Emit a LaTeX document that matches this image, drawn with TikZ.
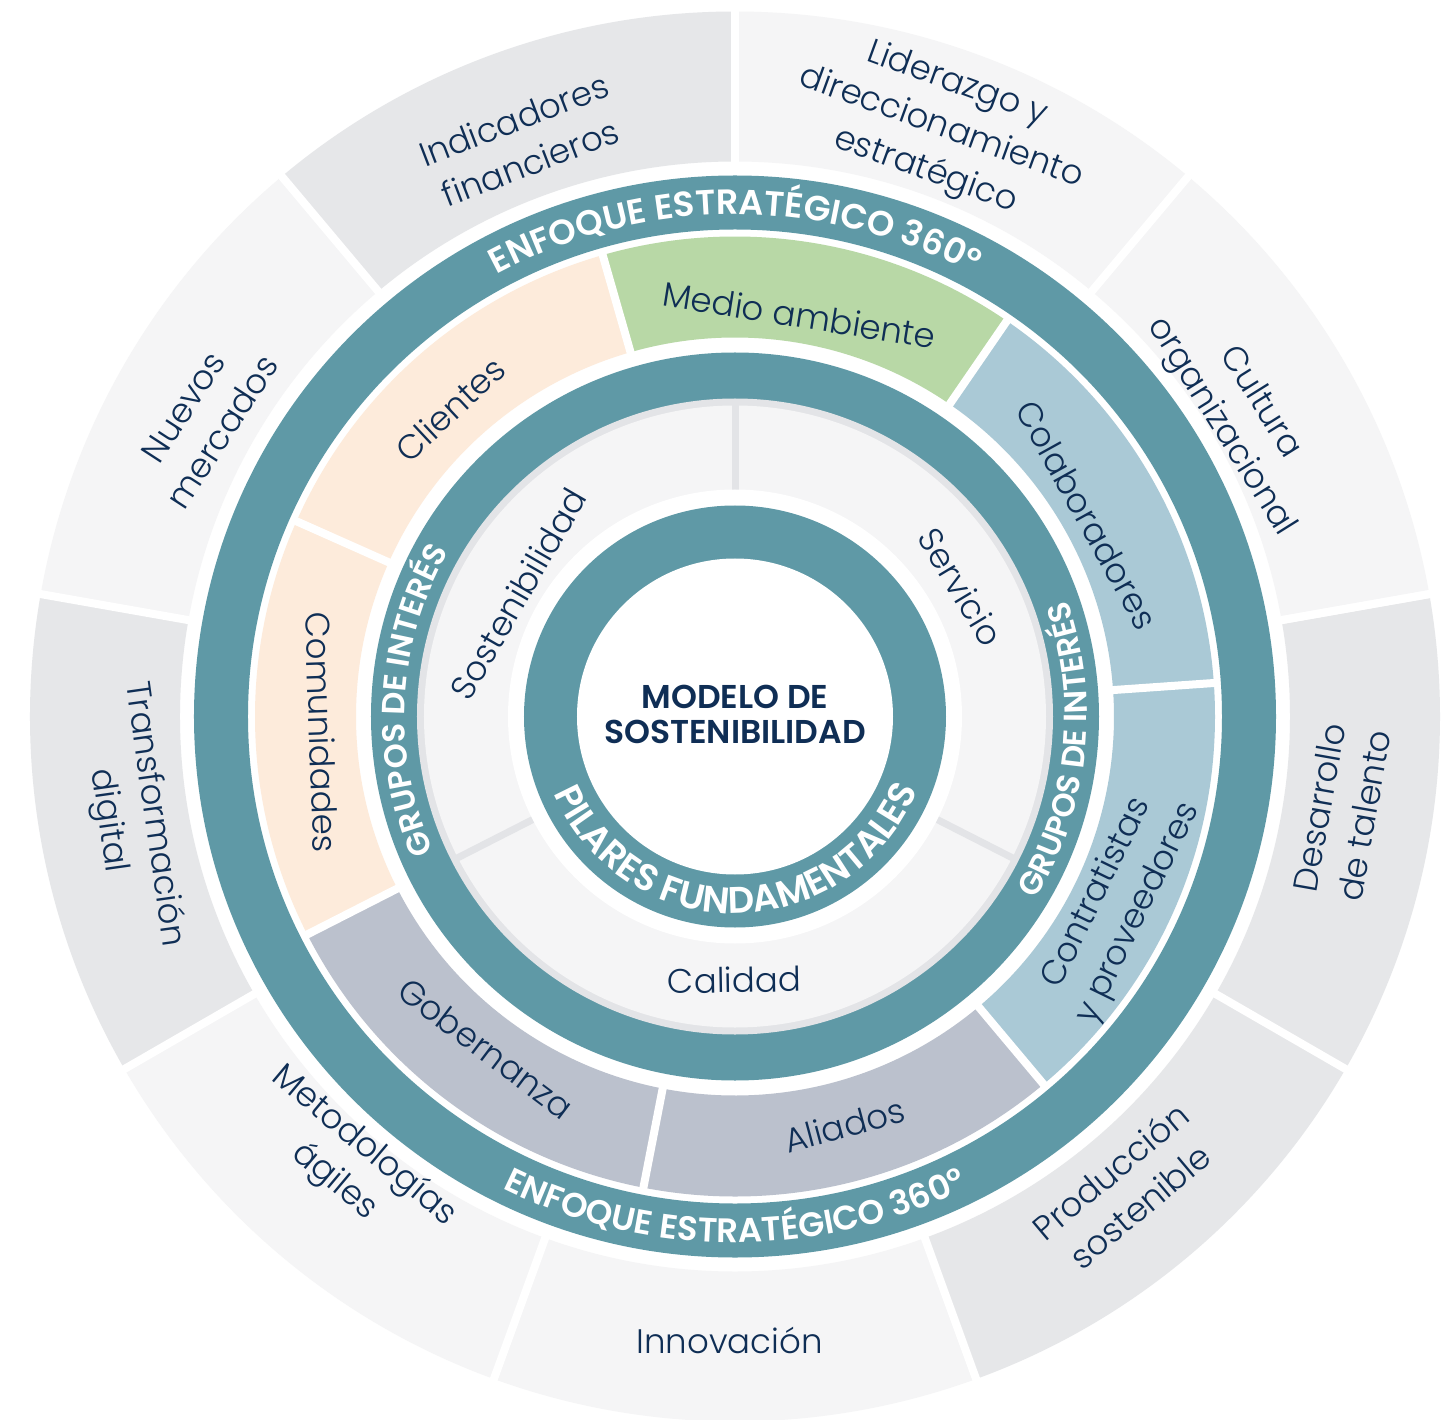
\documentclass[tikz,border=0pt]{standalone}
\usepackage{fontspec}
\setmainfont{Poppins}[UprightFont = {* Light}, BoldFont = {* SemiBold}]
\usepackage{tikz}
\usetikzlibrary{decorations.text}

\definecolor{teal360}{HTML}{5F99A6}
\definecolor{navy}{HTML}{0F2E55}
\definecolor{gris1}{HTML}{F5F5F6}
\definecolor{gris2}{HTML}{E6E7E9}
\definecolor{borde}{HTML}{E3E4E7}
\definecolor{durazno}{HTML}{FDEBDB}
\definecolor{verde}{HTML}{B8D8A6}
\definecolor{azul}{HTML}{AAC9D6}
\definecolor{lila}{HTML}{BBC1CD}

\newcommand{\etiqueta}{\fontsize{34}{46}\selectfont}
\newcommand{\modelofont}{\bfseries\fontsize{33}{35}\selectfont}
\newcommand{\anillofont}{\bfseries\fontsize{35}{35}\selectfont}
\newcommand{\anillobfont}{\bfseries\fontsize{34}{34}\selectfont}
\newcommand{\gruposfont}{\bfseries\fontsize{32}{32}\selectfont}
\newcommand{\pilaresfont}{\bfseries\fontsize{37}{37}\selectfont}
% piece of a ring: colour, start angle, end angle, inner radius, outer radius
\newcommand{\trozo}[5]{\fill [fill = #1] (#2:#5) arc [start angle = #2, end angle = #3, radius = #5]
  -- (#3:#4) arc [start angle = #3, end angle = #2, radius = #4] -- cycle;}

\begin{document}
\begin{tikzpicture}[
  lbl/.style = {text = navy, align = center, font = \etiqueta},
  corte/.style = {white, line width = 8pt},
  aro/.style = {decorate, decoration = {text along path, text color = white,
    text align = center, text = {#1}}}]
\useasboundingbox [fill = white] (-735pt, -702.5pt) rectangle (721pt, 716.5pt);
% outer ring
\trozo{gris2}{90}{130}{555pt}{705pt}
\trozo{gris1}{50}{90}{555pt}{705pt}
\trozo{gris1}{10}{50}{555pt}{705pt}
\trozo{gris2}{-30}{10}{555pt}{705pt}
\trozo{gris2}{-70}{-30}{555pt}{705pt}
\trozo{gris1}{-110}{-70}{555pt}{705pt}
\trozo{gris1}{-150}{-110}{555pt}{705pt}
\trozo{gris2}{170}{210}{555pt}{705pt}
\trozo{gris1}{130}{170}{555pt}{705pt}
\foreach \a in {10, 50, ..., 370}
  \draw [corte] (\a:548pt) -- (\a:712pt);
\fill [fill = teal360, even odd rule] (0, 0) circle [radius = 541pt] (0, 0) circle [radius = 487pt];
% grupos de interes
\trozo{verde}{55.5}{106}{379pt}{480pt}
\trozo{durazno}{106}{156}{379pt}{480pt}
\trozo{durazno}{156}{207}{379pt}{480pt}
\trozo{lila}{207}{259}{379pt}{480pt}
\trozo{lila}{259}{310}{379pt}{480pt}
\trozo{azul}{310}{364}{379pt}{480pt}
\trozo{azul}{4}{55.5}{379pt}{480pt}
\foreach \a in {55.5, 106, 156, 207, 259, 310, 364}
  \draw [corte] (\a:372pt) -- (\a:486pt);
\fill [fill = teal360] (0, 0) circle [radius = 364pt];
% pilares
\fill [fill = borde] (0, 0) circle [radius = 318pt];
\fill [fill = gris1] (0, 0) circle [radius = 311pt];
\foreach \a in {90, -27, 207}
  \draw [borde, line width = 7pt] (\a:224pt) -- (\a:314pt);
\fill [fill = white] (0, 0) circle [radius = 227pt];
\fill [fill = teal360] (0, 0) circle [radius = 211pt];
\fill [fill = white] (0, 0) circle [radius = 158pt];
%\draw [red] (0, 0) circle [radius = 705pt];

\node (modelo) [align = center, text = navy, font = \modelofont] at (0pt, 2pt) {MODELO DE\\SOSTENIBILIDAD};

\path [aro = {|\anillofont|ENFOQUE ESTRATÉGICO 360°}] (140:502pt) arc [start angle = 140, end angle = 40, radius = 502pt];
\path [aro = {|\anillobfont|ENFOQUE ESTRATÉGICO 360°}] (220:526pt) arc [start angle = 220, end angle = 320, radius = 526pt];
\path [aro = {|\gruposfont|GRUPOS DE INTERÉS}] (217:330pt) arc [start angle = 217, end angle = 137, radius = 330pt];
\path [aro = {|\gruposfont|GRUPOS DE INTERÉS}] (-46:352pt) arc [start angle = -46, end angle = 34, radius = 352pt];
\path [aro = {|\pilaresfont|PILARES FUNDAMENTALES}] (180:197pt) arc [start angle = 180, end angle = 361, radius = 197pt];

\node (sostenibilidad) [lbl, rotate = 60] at (-217pt, 123pt) {Sostenibilidad};
\node (servicio) [lbl, rotate = -59] at (226pt, 129.5pt) {Servicio};
\node (calidad) [lbl, rotate = 1] at (-0.5pt, -263.5pt) {Calidad};

\node (medio) [lbl, rotate = -9] at (64.5pt, 401.5pt) {Medio ambiente};
\node (clientes) [lbl, rotate = 43] at (-285pt, 307.5pt) {Clientes};
\node (comunidades) [lbl, rotate = -88] at (-413pt, -15.5pt) {Comunidades};
\node (gobernanza) [lbl, rotate = -37] at (-249pt, -332pt) {Gobernanza};
\node (aliados) [lbl, rotate = 15] at (109.5pt, -408.5pt) {Aliados};
\node (contratistas) [lbl, rotate = 64] at (383pt, -187pt) {Contratistas\\y proveedores};
\node (colaboradores) [lbl, rotate = -61] at (352pt, 201.5pt) {Colaboradores};

\node (indicadores) [lbl, rotate = 21] at (-213pt, 575.5pt) {Indicadores\\financieros};
\node (liderazgo) [lbl, rotate = -20] at (206pt, 588.5pt) {Liderazgo y\\direccionamiento\\estratégico};
\node (cultura) [lbl, rotate = -58] at (505pt, 301.5pt) {Cultura\\organizacional};
\node (desarrollo) [lbl, rotate = 80] at (606.5pt, -95pt) {Desarrollo\\de talento};
\node (produccion) [lbl, rotate = 40] at (390pt, -472pt) {Producción\\sostenible};
\node (innovacion) [lbl] at (-5.5pt, -623.5pt) {Innovación};
\node (metodologias) [lbl, rotate = -40] at (-386pt, -447.5pt) {Metodologías\\ágiles};
\node (transformacion) [lbl, rotate = -82] at (-604.5pt, -101pt) {Transformación\\digital};
\node (nuevos) [lbl, rotate = 57] at (-532pt, 297pt) {Nuevos\\mercados};
\end{tikzpicture}
\end{document}
